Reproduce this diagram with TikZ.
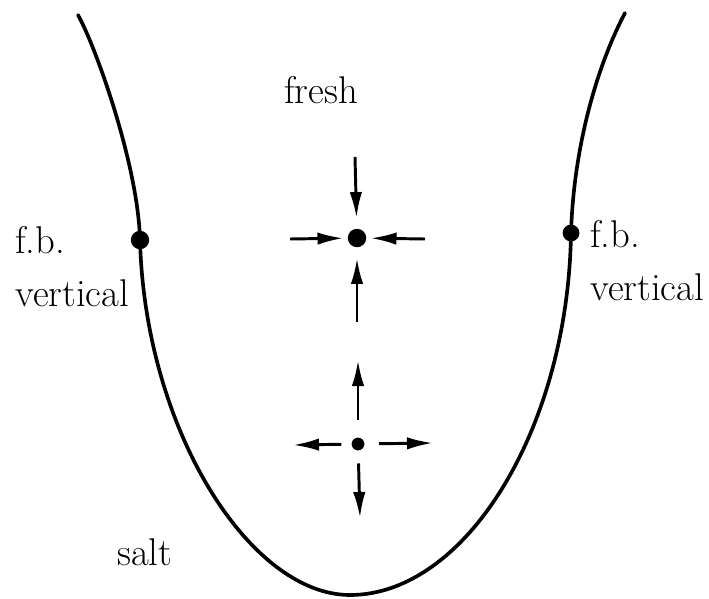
\documentclass[tikz,border=0pt]{standalone}
\usepackage{tikz}
\usetikzlibrary{arrows.meta,positioning}

\begin{document}
\begin{tikzpicture}[x=0.025cm, y=-0.025cm, >={Latex[length=6.5mm,width=3.1mm]},
  curve/.style={line width=2.6pt, line cap=round},
  flow/.style={->, line width=2.1pt},
  bigdot/.style={circle, fill, inner sep=0pt, minimum size=4.6mm},
  smalldot/.style={circle, fill, inner sep=0pt, minimum size=3.2mm},
  lbl/.style={anchor=base west, inner sep=0pt, align=left, font=\fontsize{27.5}{37}\selectfont}]
  \useasboundingbox (0,0) rectangle (709,598);
  % the interface
  \node[bigdot](lftpt) at (140,240){};
  \node[bigdot, minimum size=4.2mm](rgtpt) at (571,233){};
  \coordinate (lfttop) at (78,15); \coordinate (bottom) at (350,595); \coordinate (rgttop) at (625,13);
  \draw[curve](lfttop) .. controls (95,45) and (138,164) .. (lftpt.center)
    .. controls (145,430) and (250,595) .. (bottom)
    .. controls (465,595) and (568,430) .. (rgtpt.center)
    .. controls (574,140) and (600,60) .. (rgttop);
  \node[lbl](lftlbl) at (15,306){f.b.\\ vertical};
  \node[lbl](rgtlbl) at (590,300){f.b.\\ vertical};
  \node[lbl](fresh) at (284,103){fresh};
  \node[lbl](salt) at (117,565){salt};
  % upper point: arrows pointing in
  \node[bigdot](sink) at (357,238){};
  \coordinate (sinkN) at (355,157); \coordinate (sinkS) at (357,322);
  \coordinate (sinkW) at (290,239); \coordinate (sinkE) at (425,239);
  \draw[flow, shorten >=2.6mm](sinkN)--(sink); \draw[flow, shorten >=2.6mm](sinkS)--(sink);
  \draw[flow, shorten >=1mm](sinkW)--(sink); \draw[flow, shorten >=1mm](sinkE)--(sink);
  % lower point: arrows pointing out
  \node[smalldot](source) at (358,444){};
  \coordinate (srcN) at (358,360); \coordinate (srcS) at (360,518);
  \coordinate (srcW) at (293,445); \coordinate (srcE) at (433,443);
  \draw[flow, shorten <=4.4mm](source)--(srcN); \draw[flow, shorten <=3.2mm](source)--(srcS);
  \draw[flow, shorten <=2.5mm](source)--(srcW); \draw[flow, shorten <=3.6mm](source)--(srcE);
\end{tikzpicture}
\end{document}
